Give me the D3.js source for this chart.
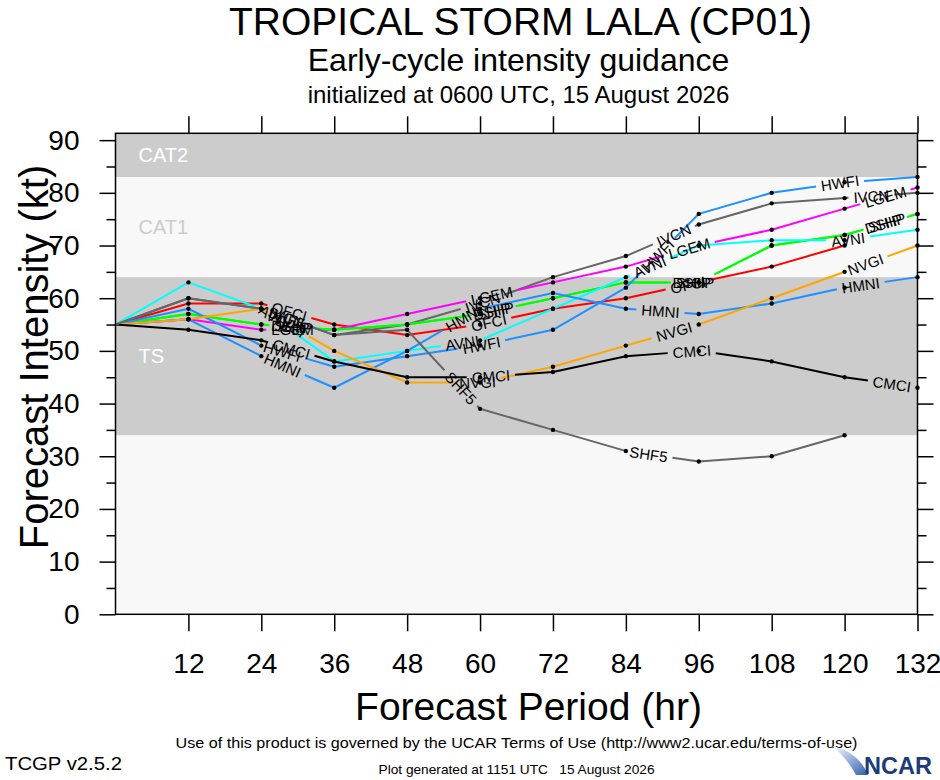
<!DOCTYPE html>
<html>
<head>
<meta charset="utf-8">
<script src="https://cdn.jsdelivr.net/npm/d3@7"></script>
<style>
  body { margin: 0; background: #ffffff; }
  svg { font-family: "Liberation Sans", Arial, Helvetica, sans-serif; }
</style>
</head>
<body>
<div id="chart"></div>
<script>
const FRAME_WIDTH = 940;
const FRAME_HEIGHT = 780;
const MARGINS = {left: 115.5, right: 22.5, top: 133.3, bottom: 165.7};

// forecast hours and intensities (kt)
const HOURS = [0, 12, 24, 36, 48, 60, 72, 84, 96, 108, 120, 132];
const OFCI = [55, 59, 59, 55, 53, 55, 58, 60, 63, 66, 70];
const IVCN = [55, 60, 58, 53, 55, 59, 64, 68, 74, 78, 79, 80];
const LGEM = [55, 56, 54, 54, 57, 60, 63, 66, 70, 73, 77, 81];
const SHIP = [55, 57, 55, 54, 55, 57, 60, 63, 63, 70, 72, 76];
const DSHP = [55, 57, 55, 54, 55, 57, 60, 63, 63, 70, 72, 76];
const AVNI = [55, 63, 58, 48, 50, 52, 58, 64, 70, 71, 71, 73];
const HWFI = [55, 58, 51, 47, 49, 51, 54, 62, 76, 80, 82, 83];
const HMNI = [55, 56, 49, 43, 50, 58, 61, 58, 57, 59, 62, 64];
const NVGI = [55, 56, 58, 50, 44, 44, 47, 51, 55, 60, 65, 70];
const CMCI = [55, 54, 52, 48, 45, 45, 46, 49, 50, 48, 45, 43];
const SHF5 = [55, 60, 58, 53, 54, 39, 35, 31, 29, 30, 34];

const MODEL_NAMES = ["OFCI", "IVCN", "LGEM", "SHIP", "DSHP", "AVNI", "HWFI", "HMNI", "NVGI", "CMCI", "SHF5"];
const MODEL_VALUES = [OFCI, IVCN, LGEM, SHIP, DSHP, AVNI, HWFI, HMNI, NVGI, CMCI, SHF5];

const X_TICKS = [12, 24, 36, 48, 60, 72, 84, 96, 108, 120, 132];
const Y_TICKS = [0, 10, 20, 30, 40, 50, 60, 70, 80, 90];
const Y_MINOR_TICKS = [5, 15, 25, 35, 45, 55, 65, 75, 85];

// intensity categories (kt)
const BAND_NAMES = ["TS", "CAT1", "CAT2"];
const BAND_LOW = [34, 64, 83];
const BAND_HIGH = [64, 83, 91.3];

const COLOR_SCALE = d3.scaleOrdinal()
    .domain(MODEL_NAMES)
    .range(["#ff0000", "#666666", "#ff00ff", "#00ff00", "#00ff00", "#00ffff",
            "#1e90ff", "#1e90ff", "#ffa500", "#000000", "#666666"]);

const VIS_WIDTH = FRAME_WIDTH - MARGINS.left - MARGINS.right;
const VIS_HEIGHT = FRAME_HEIGHT - MARGINS.top - MARGINS.bottom;

const X_SCALE = d3.scaleLinear()
    .domain([0, 132])
    .range([MARGINS.left, MARGINS.left + VIS_WIDTH]);

const Y_SCALE = d3.scaleLinear()
    .domain([0, 91.3])
    .range([MARGINS.top + VIS_HEIGHT, MARGINS.top]);

const FRAME = d3.select("#chart")
    .append("svg")
        .attr("width", FRAME_WIDTH)
        .attr("height", FRAME_HEIGHT);

// plot background + category bands
FRAME.append("rect")
    .attr("x", MARGINS.left)
    .attr("y", MARGINS.top)
    .attr("width", VIS_WIDTH)
    .attr("height", VIS_HEIGHT)
    .style("fill", "#f8f8f8");

FRAME.selectAll(".band")
    .data(BAND_NAMES)
    .enter()
    .append("rect")
        .attr("class", "band")
        .attr("x", MARGINS.left)
        .attr("y", (d, i) => Y_SCALE(BAND_HIGH[i]))
        .attr("width", VIS_WIDTH)
        .attr("height", (d, i) => Y_SCALE(BAND_LOW[i]) - Y_SCALE(BAND_HIGH[i]))
        .style("fill", (d) => d == "CAT1" ? "none" : "#cccccc");

FRAME.selectAll(".bandlabel")
    .data(BAND_NAMES)
    .enter()
    .append("text")
        .attr("class", "bandlabel")
        .attr("x", MARGINS.left + 23)
        .attr("y", (d, i) => Y_SCALE((BAND_LOW[i] + BAND_HIGH[i]) / 2))
        .attr("dominant-baseline", "central")
        .attr("font-size", "20px")
        .style("fill", (d) => d == "CAT1" ? "#cccccc" : "#ffffff")
        .text((d) => d);

// axes
function styleAxis(g) {
    g.select(".domain").remove();
    g.selectAll(".tick line").attr("stroke", "#000").attr("stroke-width", 1.5);
    g.selectAll(".tick text").attr("fill", "#000");
}

FRAME.append("g")
    .attr("transform", "translate(0," + (MARGINS.top + VIS_HEIGHT) + ")")
    .call(d3.axisBottom(X_SCALE).tickValues(X_TICKS).tickSize(17).tickPadding(22))
    .attr("font-size", "28px")
    .call(styleAxis);

FRAME.append("g")
    .attr("transform", "translate(0," + MARGINS.top + ")")
    .call(d3.axisTop(X_SCALE).tickValues(X_TICKS).tickSize(17).tickFormat(""))
    .call(styleAxis);

FRAME.append("g")
    .attr("transform", "translate(" + MARGINS.left + ",0)")
    .call(d3.axisLeft(Y_SCALE).tickValues(Y_TICKS).tickSize(16).tickPadding(20))
    .attr("font-size", "28px")
    .call(styleAxis);

FRAME.append("g")
    .attr("transform", "translate(" + MARGINS.left + ",0)")
    .call(d3.axisLeft(Y_SCALE).tickValues(Y_MINOR_TICKS).tickSize(9).tickFormat(""))
    .call(styleAxis);

FRAME.append("g")
    .attr("transform", "translate(" + (MARGINS.left + VIS_WIDTH) + ",0)")
    .call(d3.axisRight(Y_SCALE).tickValues(Y_TICKS).tickSize(16).tickFormat(""))
    .call(styleAxis);

FRAME.append("g")
    .attr("transform", "translate(" + (MARGINS.left + VIS_WIDTH) + ",0)")
    .call(d3.axisRight(Y_SCALE).tickValues(Y_MINOR_TICKS).tickSize(9).tickFormat(""))
    .call(styleAxis);

// model tracks with inline labels (line broken where a label sits)
const LABEL_FIRST = 178;
const LABEL_STEP = 203;
const LABEL_PAD = 5;

const line = d3.line()
    .x((d) => X_SCALE(d[0]))
    .y((d) => Y_SCALE(d[1]));

const tracks = FRAME.append("g");
const labels = FRAME.append("g");

MODEL_NAMES.forEach((name, m) => {
    let pts = MODEL_VALUES[m].map((v, i) => [HOURS[i], v]);
    let path = tracks.append("path")
        .datum(pts)
        .attr("d", line)
        .style("fill", "none")
        .style("stroke", COLOR_SCALE(name))
        .style("stroke-width", 2)
        .style("stroke-linejoin", "round");

    let node = path.node();
    let total = node.getTotalLength();
    let dashes = [];
    let prev = 0;
    for (let s = LABEL_FIRST; ; s += LABEL_STEP) {
        let p = node.getPointAtLength(s);
        let a = node.getPointAtLength(Math.max(0, s - 4));
        let b = node.getPointAtLength(Math.min(total, s + 4));
        let angle = Math.atan2(b.y - a.y, b.x - a.x) * 180 / Math.PI;
        let txt = labels.append("text")
            .attr("transform", "translate(" + p.x + "," + p.y + ") rotate(" + angle + ")")
            .attr("text-anchor", "middle")
            .attr("dominant-baseline", "central")
            .attr("font-size", "15px")
            .style("fill", "#000")
            .text(name);
        let half = txt.node().getComputedTextLength() / 2 + LABEL_PAD;
        if (s + half > total) { txt.remove(); break; }
        dashes.push(s - half - prev, 2 * half);
        prev = s + half;
    }
    dashes.push(total - prev + 1);
    path.style("stroke-dasharray", dashes.join(","));
});

// forecast points
const dots = FRAME.append("g");
MODEL_NAMES.forEach((name, m) => {
    dots.selectAll(null)
        .data(MODEL_VALUES[m].slice(1))
        .enter()
        .append("circle")
            .attr("cx", (d, i) => X_SCALE(HOURS[i + 1]))
            .attr("cy", (d) => Y_SCALE(d))
            .attr("r", 2.2)
            .style("fill", "#000");
});
labels.raise();

// frame
FRAME.append("rect")
    .attr("x", MARGINS.left)
    .attr("y", MARGINS.top)
    .attr("width", VIS_WIDTH)
    .attr("height", VIS_HEIGHT)
    .style("fill", "none")
    .style("stroke", "#000")
    .style("stroke-width", 1.5);

// titles
const CENTER_X = MARGINS.left + VIS_WIDTH / 2;
FRAME.append("text")
    .attr("x", CENTER_X + 4).attr("y", 35)
    .attr("text-anchor", "middle").attr("font-size", "39px")
    .text("TROPICAL STORM LALA (CP01)");
FRAME.append("text")
    .attr("x", CENTER_X + 2).attr("y", 71)
    .attr("text-anchor", "middle").attr("font-size", "32px")
    .text("Early-cycle intensity guidance");
FRAME.append("text")
    .attr("x", CENTER_X + 2).attr("y", 103)
    .attr("text-anchor", "middle").attr("font-size", "24px")
    .text("initialized at 0600 UTC, 15 August 2026");

FRAME.append("text")
    .attr("x", CENTER_X + 12).attr("y", 720)
    .attr("text-anchor", "middle").attr("font-size", "39px")
    .text("Forecast Period (hr)");
FRAME.append("text")
    .attr("transform", "translate(48," + 357 + ") rotate(-90)")
    .attr("text-anchor", "middle").attr("font-size", "40px")
    .text("Forecast Intensity (kt)");

// footer
FRAME.append("text")
    .attr("x", CENTER_X).attr("y", 748)
    .attr("text-anchor", "middle").attr("font-size", "14px")
    .attr("textLength", 682).attr("lengthAdjust", "spacingAndGlyphs")
    .text("Use of this product is governed by the UCAR Terms of Use (http://www2.ucar.edu/terms-of-use)");
FRAME.append("text")
    .attr("x", 5).attr("y", 770)
    .attr("font-size", "19px")
    .attr("textLength", 117).attr("lengthAdjust", "spacingAndGlyphs")
    .text("TCGP v2.5.2");
FRAME.append("text")
    .attr("x", CENTER_X).attr("y", 774)
    .attr("text-anchor", "middle").attr("font-size", "13px")
    .attr("textLength", 276).attr("lengthAdjust", "spacingAndGlyphs")
    .style("white-space", "pre")
    .text("Plot generated at 1151 UTC   15 August 2026");

// NCAR logo
const grad = FRAME.append("defs").append("linearGradient")
    .attr("id", "swoosh").attr("x1", "0").attr("y1", "0").attr("x2", "1").attr("y2", "1");
grad.append("stop").attr("offset", "0").attr("stop-color", "#ffffff");
grad.append("stop").attr("offset", "1").attr("stop-color", "#2f5fae");
FRAME.append("path")
    .attr("d", "M832,746 C850,750 862,760 868,775 L856,775 C850,764 842,754 832,746 Z")
    .style("fill", "url(#swoosh)");
FRAME.append("text")
    .attr("x", 864).attr("y", 774)
    .attr("font-size", "24px").attr("font-weight", "bold")
    .attr("textLength", 68).attr("lengthAdjust", "spacingAndGlyphs")
    .style("fill", "#1b3c78")
    .text("NCAR");
</script>
</body>
</html>
